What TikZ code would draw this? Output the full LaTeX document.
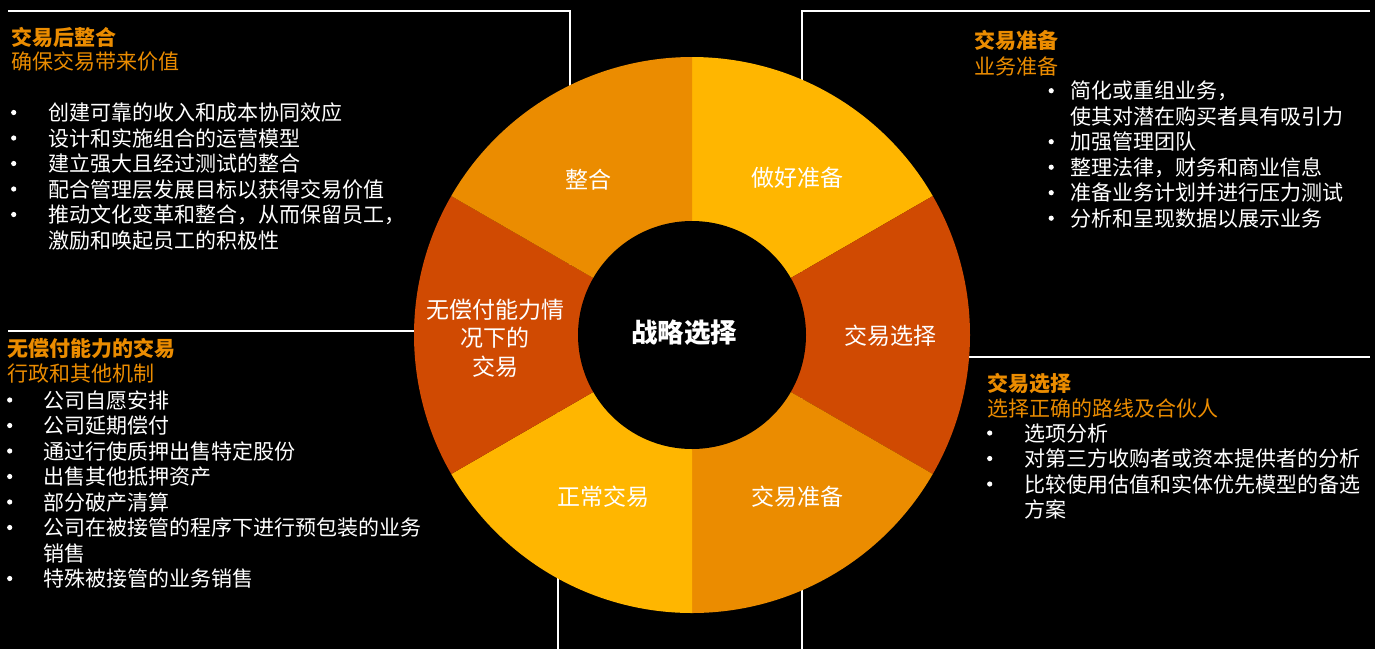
\documentclass[tikz,border=0pt]{standalone}
\usepackage{fontspec}
\usepackage{array}
\setmainfont{Noto Sans CJK SC}
\usetikzlibrary{positioning}

\definecolor{pwcyellow}{HTML}{FFB600}
\definecolor{pwcorange}{HTML}{EB8C00}
\definecolor{pwcred}{HTML}{D04A02}

% bullet dot
\newcommand\bdot{\tikz[baseline=-8pt]\fill[white] (0,0) circle (2.6pt);}

\tikzset{
  head/.style={anchor=base west, inner sep=0pt, text=pwcorange, font=\bfseries\fontsize{21}{25.5}\selectfont},
  subhead/.style={anchor=base west, inner sep=0pt, text=pwcorange, font=\fontsize{21}{25.5}\selectfont},
  blist/.style={anchor=base west, inner sep=0pt, text=white, font=\fontsize{21}{25.5}\selectfont},
  seglabel/.style={text=white, align=center, inner sep=0pt, font=\fontsize{23}{28.5}\selectfont},
  frame/.style={draw=white, line width=1.3pt},
}

\begin{document}
\begin{tikzpicture}[x=1pt, y=1pt]
    % Background
    \fill[black] (0,0) rectangle (1375,-649);
    \useasboundingbox (0,0) rectangle (1375,-649);
    \coordinate (c) at (692,-335);

    % Frame lines
    \draw[frame] (8,-11) -| (570,-335);
    \draw[frame] (1370,-11) -| (802,-335);
    \draw[frame] (8,-331) -- (692,-331);
    \draw[frame] (1370,-357) -- (692,-357);
    \draw[frame] (558,-649) -- (558,-335);
    \draw[frame] (802,-649) -- (802,-335);

    % Wheel
    \foreach \a/\col in {30/pwcyellow, -30/pwcred, -90/pwcorange, -150/pwcyellow, 150/pwcred, 90/pwcorange}
        \fill[\col] (c) -- ++(\a:278) arc[start angle=\a, delta angle=60, radius=278] -- cycle;
    \node[circle, fill=black, minimum size=228pt, inner sep=0pt] (core) at (c) {};
    \node[text=white, inner sep=0pt, font=\bfseries\fontsize{26.5}{30}\selectfont] (strategy) at (684,-333) {战略选择};

    % Segment labels
    \node[seglabel] (integrate) at (588,-180) {整合};
    \node[seglabel] (prepare)   at (797,-178) {做好准备};
    \node[seglabel] (select)    at (890,-336) {交易选择};
    \node[seglabel] (dealprep)  at (797,-497) {交易准备};
    \node[seglabel] (normal)    at (603,-497) {正常交易};
    \node[seglabel] (insolvent) at (495,-338) {无偿付能力情\\况下的\\交易};

    % Top left
    \node[head]    (tlhead) at (11,-45)   {交易后整合};
    \node[subhead] (tlsub)  at (11,-69.5) {确保交易带来价值};
    \node[blist]   (tllist) at (8.5,-120.5) {\begin{tabular}[t]{@{}wc{10pt}@{\hspace{29.5pt}}l@{}}
        \bdot & 创建可靠的收入和成本协同效应\\
        \bdot & 设计和实施组合的运营模型\\
        \bdot & 建立强大且经过测试的整合\\
        \bdot & 配合管理层发展目标以获得交易价值\\
        \bdot & 推动文化变革和整合，从而保留员工，\\
              & 激励和唤起员工的积极性
    \end{tabular}};

    % Top right
    \node[head]    (trhead) at (974,-48.7) {交易准备};
    \node[subhead] (trsub)  at (974,-74.7) {业务准备};
    \node[blist]   (trlist) at (1046,-98.7) {\begin{tabular}[t]{@{}wc{10pt}@{\hspace{14pt}}l@{}}
        \bdot & 简化或重组业务，\\
              & 使其对潜在购买者具有吸引力\\
        \bdot & 加强管理团队\\
        \bdot & 整理法律，财务和商业信息\\
        \bdot & 准备业务计划并进行压力测试\\
        \bdot & 分析和呈现数据以展示业务
    \end{tabular}};

    % Middle left
    \node[head]    (mlhead) at (7,-356)   {无偿付能力的交易};
    \node[subhead] (mlsub)  at (7,-381.5) {行政和其他机制};
    \node[blist]   (mllist) at (4.5,-408) {\begin{tabular}[t]{@{}wc{10pt}@{\hspace{28.5pt}}l@{}}
        \bdot & 公司自愿安排\\
        \bdot & 公司延期偿付\\
        \bdot & 通过行使质押出售特定股份\\
        \bdot & 出售其他抵押资产\\
        \bdot & 部分破产清算\\
        \bdot & 公司在被接管的程序下进行预包装的业务\\
              & 销售\\
        \bdot & 特殊被接管的业务销售
    \end{tabular}};

    % Middle right
    \node[head]    (mrhead) at (987,-391) {交易选择};
    \node[subhead] (mrsub)  at (987,-416) {选择正确的路线及合伙人};
    \node[blist]   (mrlist) at (984.5,-441) {\begin{tabular}[t]{@{}wc{10pt}@{\hspace{29.5pt}}l@{}}
        \bdot & 选项分析\\
        \bdot & 对第三方收购者或资本提供者的分析\\
        \bdot & 比较使用估值和实体优先模型的备选\\
              & 方案
    \end{tabular}};
\end{tikzpicture}
\end{document}
